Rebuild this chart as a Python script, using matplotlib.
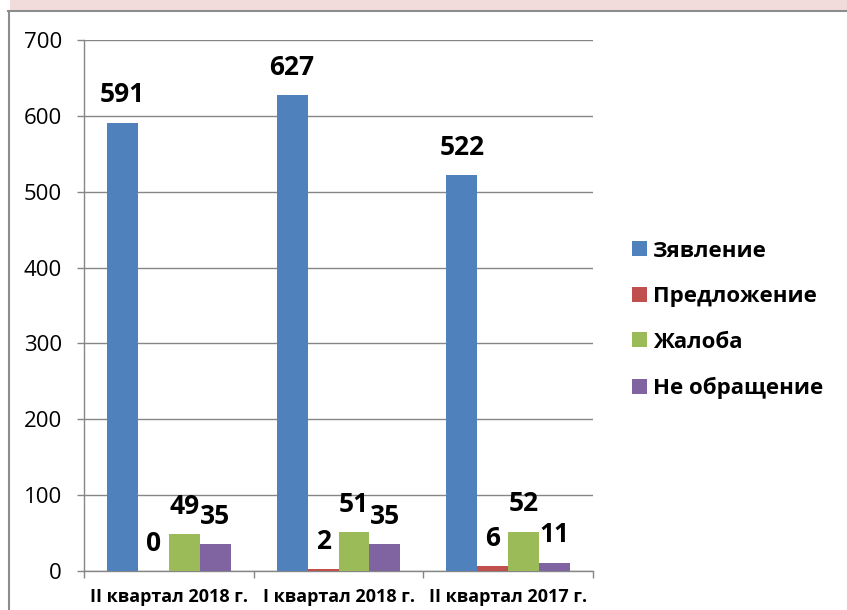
import matplotlib
matplotlib.use("Agg")
import matplotlib.pyplot as plt
import numpy as np
from matplotlib.patches import Rectangle, Patch
from matplotlib.lines import Line2D

categories = ["II квартал 2018 г.", "I квартал 2018 г.", "II квартал 2017 г."]
series_names = ["Зявление", "Предложение", "Жалоба", "Не обращение"]
zayavlenie = [591, 627, 522]
predlozhenie = [0, 2, 6]
zhaloba = [49, 51, 52]
ne_obrashchenie = [35, 35, 11]
colors = ["#4F81BD", "#C0504D", "#9BBB59", "#8064A2"]
y_ticks = [0, 100, 200, 300, 400, 500, 600, 700]

plt.rcParams['font.family'] = ['Open Sans', 'DejaVu Sans']

W, H = 847, 610
fig = plt.figure(figsize=(W / 100, H / 100), dpi=100)
fig.patch.set_facecolor("white")

# top pink strip and chart border
fig.patches.append(Rectangle((10 / W, 1 - 10 / H), 1, 10 / H, transform=fig.transFigure,
                             facecolor="#F2DCDB", edgecolor="none", zorder=0))
fig.lines.append(Line2D([8 / W, 1], [1 - 10.5 / H, 1 - 10.5 / H], transform=fig.transFigure,
                        color="#8C8C8C", lw=1.5))
fig.lines.append(Line2D([8.5 / W, 8.5 / W], [0, 1 - 10.5 / H], transform=fig.transFigure,
                        color="#8C8C8C", lw=1.5))

ax = fig.add_axes([84 / W, 1 - 571 / H, (593 - 84) / W, (571 - 40) / H])
ax.set_facecolor("white")

x = np.arange(len(categories))
w = 0.182
all_series = [zayavlenie, predlozhenie, zhaloba, ne_obrashchenie]
offsets = [-1.5, -0.5, 0.5, 1.5]
for vals, off, col, name in zip(all_series, offsets, colors, series_names):
    bars = ax.bar(x + off * w, vals, width=w, color=col, label=name, zorder=3)
    for xi, v in zip(x + off * w, vals):
        ax.annotate(str(v), (xi, v), xytext=(0, 20), textcoords="offset points",
                    ha="center", va="center", fontsize=19, fontweight="bold",
                    color="black", zorder=4)

ax.set_xlim(-0.5, 2.5)
ax.set_ylim(0, 700)
ax.set_yticks(y_ticks)
ax.set_yticklabels([str(t) for t in y_ticks], fontsize=16)
ax.set_xticks(x)
ax.set_xticklabels(categories, fontsize=13, fontweight="bold")
ax.set_xticks([-0.5, 0.5, 1.5, 2.5], minor=True)
ax.tick_params(axis="x", which="major", length=0, pad=12)
ax.tick_params(axis="x", which="minor", length=5, width=1, color="#868686", direction="out")
ax.tick_params(axis="y", which="major", length=5, width=1, color="#868686", pad=11)

ax.grid(axis="y", color="#868686", lw=1, zorder=1)
ax.set_axisbelow(True)
for s in ["top", "right"]:
    ax.spines[s].set_visible(False)
for s in ["left", "bottom"]:
    ax.spines[s].set_color("#868686")
    ax.spines[s].set_linewidth(1)

handles = [Patch(facecolor=c, edgecolor="none") for c in colors]
leg = fig.legend(handles, series_names, loc="center left",
                 bbox_to_anchor=(632 / W, 1 - 320 / H), bbox_transform=fig.transFigure,
                 frameon=False, borderpad=0, borderaxespad=0,
                 handlelength=0.66, handleheight=0.66, handletextpad=0.3,
                 labelspacing=1.1, prop={"size": 16, "weight": "bold"})

fig.savefig("out.png", dpi=100, facecolor="white")
